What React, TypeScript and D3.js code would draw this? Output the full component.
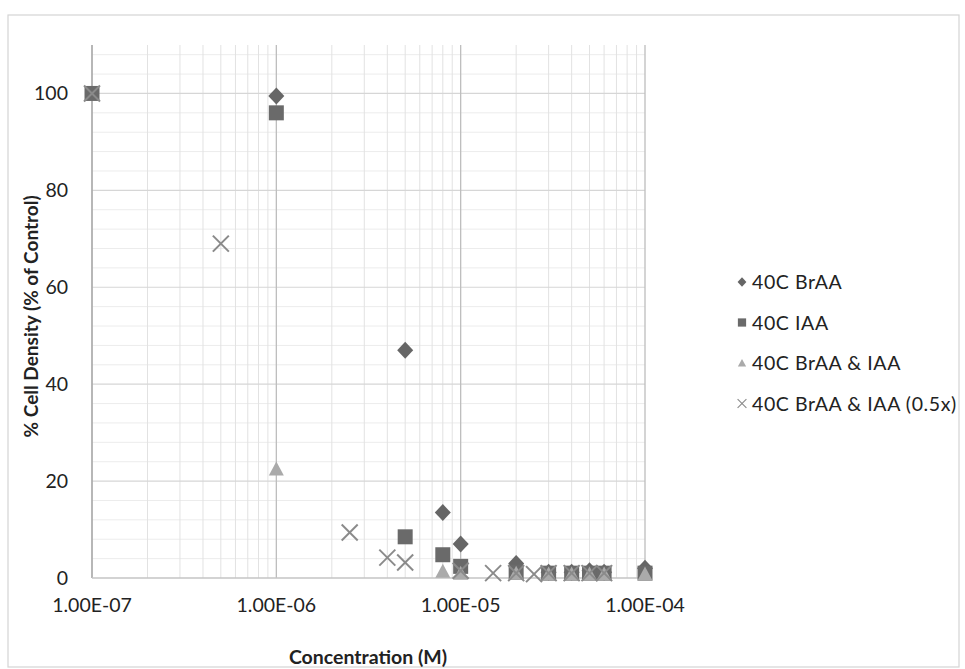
import React from "react";
import * as d3 from "d3";

// Concentration (M) vs % cell density, one array per series
const braa: [number, number][] = [
  [1e-6, 99.5], [5e-6, 47], [8e-6, 13.5], [1e-5, 7], [2e-5, 3],
  [3e-5, 1.2], [4e-5, 1.2], [5e-5, 1.5], [6e-5, 1.2], [1e-4, 2],
];
const iaa: [number, number][] = [
  [1e-7, 100], [1e-6, 96], [5e-6, 8.5], [8e-6, 4.8], [1e-5, 2.4],
  [2e-5, 1.2], [3e-5, 1], [4e-5, 1], [5e-5, 1], [6e-5, 1], [1e-4, 1],
];
const braaIaa: [number, number][] = [
  [1e-6, 22.5], [8e-6, 1.4], [1e-5, 1], [2e-5, 1], [3e-5, 0.8],
  [4e-5, 0.8], [5e-5, 0.8], [6e-5, 0.8], [1e-4, 0.8],
];
const braaIaaHalf: [number, number][] = [
  [1e-7, 100], [5e-7, 69], [2.5e-6, 9.4], [4e-6, 4.2], [5e-6, 3.2],
  [1e-5, 1.5], [1.5e-5, 1], [2e-5, 1], [2.5e-5, 0.8], [3e-5, 1],
  [4e-5, 1], [5e-5, 1], [6e-5, 1],
];

const seriesNames = ["40C BrAA", "40C IAA", "40C BrAA & IAA", "40C BrAA & IAA (0.5x)"];
const xTicks = [1e-7, 1e-6, 1e-5, 1e-4];
const xTickLabels = ["1.00E-07", "1.00E-06", "1.00E-05", "1.00E-04"];
const yTicks = [0, 20, 40, 60, 80, 100];

const W = 965;
const H = 669;
const FONT = "Lato, 'Open Sans', sans-serif";

const x = d3.scaleLog().domain([1e-7, 1e-4]).range([92, 645]);
const y = d3.scaleLinear().domain([0, 110]).range([578, 45]);

// marker shapes centred on the origin
const diamondPath = "M0,-8.5L8,0L0,8.5L-8,0Z";
const squarePath = "M-7.5,-7.5H7.5V7.5H-7.5Z";
const trianglePath = "M0,-7.5L7.5,6.5H-7.5Z";

function Marker({ kind, cx, cy, scale = 1 }: { kind: number; cx: number; cy: number; scale?: number }) {
  const t = `translate(${cx},${cy}) scale(${scale})`;
  if (kind === 0) return <path d={diamondPath} transform={t} fill="#666" />;
  if (kind === 1) return <path d={squarePath} transform={t} fill="#6a6a6a" />;
  if (kind === 2) return <path d={trianglePath} transform={t} fill="#aaa" />;
  const r = 8;
  return (
    <g transform={t} stroke="#8a8a8a" strokeWidth={2}>
      <line x1={-r} y1={-r} x2={r} y2={r} />
      <line x1={-r} y1={r} x2={r} y2={-r} />
    </g>
  );
}

export default function App() {
  const [x0, x1] = x.range();
  const [yb, yt] = y.range();

  // minor log gridlines (2..9 within each decade)
  const minorX: number[] = [];
  for (let e = -7; e < -4; e++) {
    for (let m = 2; m <= 9; m++) minorX.push(m * Math.pow(10, e));
  }
  const minorY = d3.range(4, 110, 4).filter((v) => v % 20 !== 0);
  const majorY = d3.range(20, 111, 20);

  const all = [braa, iaa, braaIaa, braaIaaHalf];

  return (
    <svg width={W} height={H} style={{ position: "absolute", left: 0, top: 0, background: "#fff" }}>
      <rect x={8} y={15} width={951} height={652} fill="#fff" stroke="#d4d4d4" strokeWidth={1.2} />

      {/* gridlines */}
      {minorY.map((v) => (
        <line key={"my" + v} x1={x0} x2={x1} y1={y(v)} y2={y(v)} stroke="#ececec" strokeWidth={1} />
      ))}
      {minorX.map((v) => (
        <line key={"mx" + v} x1={x(v)} x2={x(v)} y1={yb} y2={yt} stroke="#e2e2e2" strokeWidth={1} />
      ))}
      {majorY.map((v) => (
        <line key={"My" + v} x1={x0} x2={x1} y1={y(v)} y2={y(v)} stroke="#d6d6d6" strokeWidth={1.2} />
      ))}
      {xTicks.map((v) => (
        <line key={"Mx" + v} x1={x(v)} x2={x(v)} y1={yb} y2={yt} stroke="#bdbdbd" strokeWidth={1.3} />
      ))}

      {/* axes */}
      <line x1={x0} x2={x0} y1={yb} y2={yt} stroke="#a8a8a8" strokeWidth={1.3} />
      <line x1={x0} x2={x1} y1={yb} y2={yb} stroke="#c4c4c4" strokeWidth={1.3} />

      {/* tick labels */}
      {yTicks.map((v) => (
        <text key={"yl" + v} x={68} y={y(v)} dy="0.36em" textAnchor="end" fontFamily={FONT} fontSize={19.5} fill="#222">
          {v}
        </text>
      ))}
      {xTicks.map((v, i) => (
        <text key={"xl" + v} x={x(v)} y={612} textAnchor="middle" fontFamily={FONT} fontSize={19.5} fill="#222">
          {xTickLabels[i]}
        </text>
      ))}

      {/* axis titles */}
      <text x={368} y={664} textAnchor="middle" fontFamily={FONT} fontSize={19.5} fontWeight="bold" fill="#222">
        Concentration (M)
      </text>
      <text
        transform={`translate(38,${y(54)}) rotate(-90)`}
        textAnchor="middle"
        fontFamily={FONT}
        fontSize={19}
        fontWeight="bold"
        fill="#222"
      >
        % Cell Density (% of Control)
      </text>

      {/* data */}
      {all.map((s, k) => (
        <g key={"s" + k}>
          {s.map(([cx, cy], i) => (
            <Marker key={i} kind={k} cx={x(cx)} cy={y(cy)} />
          ))}
        </g>
      ))}

      {/* legend */}
      {seriesNames.map((name, i) => (
        <g key={"lg" + i} transform={`translate(0,${282 + i * 40.5})`}>
          <Marker kind={i} cx={742} cy={0} scale={0.55} />
          <text x={752} y={0} dy="0.36em" fontFamily={FONT} fontSize={19.5} letterSpacing={0.6} fill="#222">
            {name}
          </text>
        </g>
      ))}
    </svg>
  );
}
